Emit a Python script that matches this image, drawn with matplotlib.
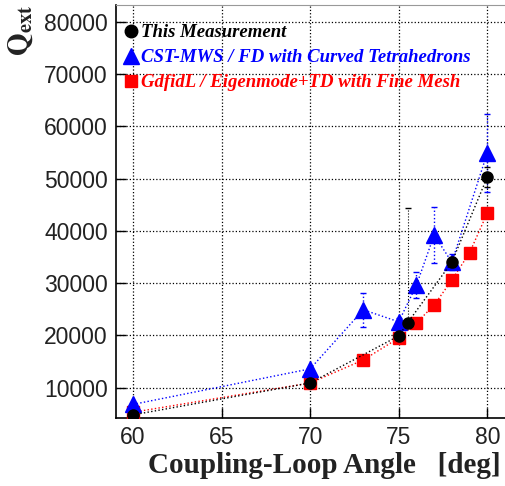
import matplotlib
matplotlib.use("Agg")
import matplotlib.pyplot as plt
import numpy as np
from matplotlib.lines import Line2D

plt.rcParams['mathtext.fontset'] = 'stix'

# measured Q_ext
meas_angle = [60, 70, 75, 75.5, 78, 80]
meas_q = [4800, 10900, 19900, 22400, 34000, 50300]
meas_err_lo = [0, 0, 0, 0, 1000, 2000]
meas_err_hi = [0, 0, 0, 22000, 1000, 2000]

# CST-MWS simulation
cst_angle = [60, 70, 73, 75, 76, 77, 78, 80]
cst_q = [6800, 13600, 24900, 22600, 29600, 39200, 34000, 54900]
cst_err = [0, 0, 3200, 800, 2500, 5400, 1500, 7500]

# GdfidL simulation
gdf_angle = [60, 70, 73, 75, 76, 77, 78, 79, 80]
gdf_q = [5300, 10900, 15300, 19500, 22400, 25800, 30600, 35800, 43400]

W, H = 505, 486
fig = plt.figure(figsize=(W / 100, H / 100), dpi=100)
ax = fig.add_axes([116 / W, (H - 418) / H, 1 - 116 / W, (418 - 5) / H])

eb_c = ax.errorbar(cst_angle, cst_q, yerr=cst_err, color='blue', ls=':',
                   lw=1, marker='^', ms=11, mec='blue', elinewidth=1,
                   capsize=2, zorder=3)
ax.plot(gdf_angle, gdf_q, color='red', ls=':', lw=1, marker='s', ms=9,
        zorder=3)
eb_m = ax.errorbar(meas_angle, meas_q, yerr=[meas_err_lo, meas_err_hi],
                   color='black', ls=':', lw=1, marker='o', ms=8,
                   elinewidth=0.8, capsize=2, zorder=4)
for eb in (eb_c, eb_m):
    for c in eb[2]:
        c.set_linestyle(':')

ax.set_xlim(59.04, 81.0)
ax.set_ylim(4200, 83200)
ax.set_xticks([60, 65, 70, 75, 80])
ax.set_yticks(np.arange(10000, 80001, 10000))
ax.grid(True, color='black', ls=':', lw=0.9)
ax.tick_params(direction='in', length=7, width=1, labelsize=16.5, pad=6)
for lab in ax.get_xticklabels() + ax.get_yticklabels():
    lab.set_family('Liberation Sans')
    lab.set_color('#222222')
ax.spines['right'].set_visible(False)
ax.spines['top'].set_color('#999999')
ax.spines['left'].set_linewidth(1.2)
ax.spines['bottom'].set_linewidth(1.2)

ax.set_xlabel('Coupling-Loop Angle   [deg]', family='Liberation Serif',
              fontweight='bold', fontsize=21, color='#222222')
ax.xaxis.set_label_coords(0.535, -0.083)
fig.text(21 / W, 1 - 30 / H, r'$\mathbf{Q_{ext}}$', fontsize=21,
         color='#222222', rotation=90, ha='center', va='center')

handles = [
    Line2D([], [], ls='none', marker='o', ms=9, color='black'),
    Line2D([], [], ls='none', marker='^', ms=11, color='blue'),
    Line2D([], [], ls='none', marker='s', ms=9, color='red'),
]
labels = ['This Measurement', 'CST-MWS / FD with Curved Tetrahedrons',
          'GdfidL / Eigenmode+TD with Fine Mesh']
leg = ax.legend(handles, labels, loc='upper left',
                bbox_to_anchor=(-0.02, 0.995),
                frameon=False, handlelength=0.6, handletextpad=0.25,
                labelspacing=0.42,
                prop={'family': 'Liberation Serif', 'weight': 'bold',
                      'style': 'italic', 'size': 13.5})
for txt, col in zip(leg.get_texts(), ['black', 'blue', 'red']):
    txt.set_color(col)

fig.savefig('out.png', dpi=100)
